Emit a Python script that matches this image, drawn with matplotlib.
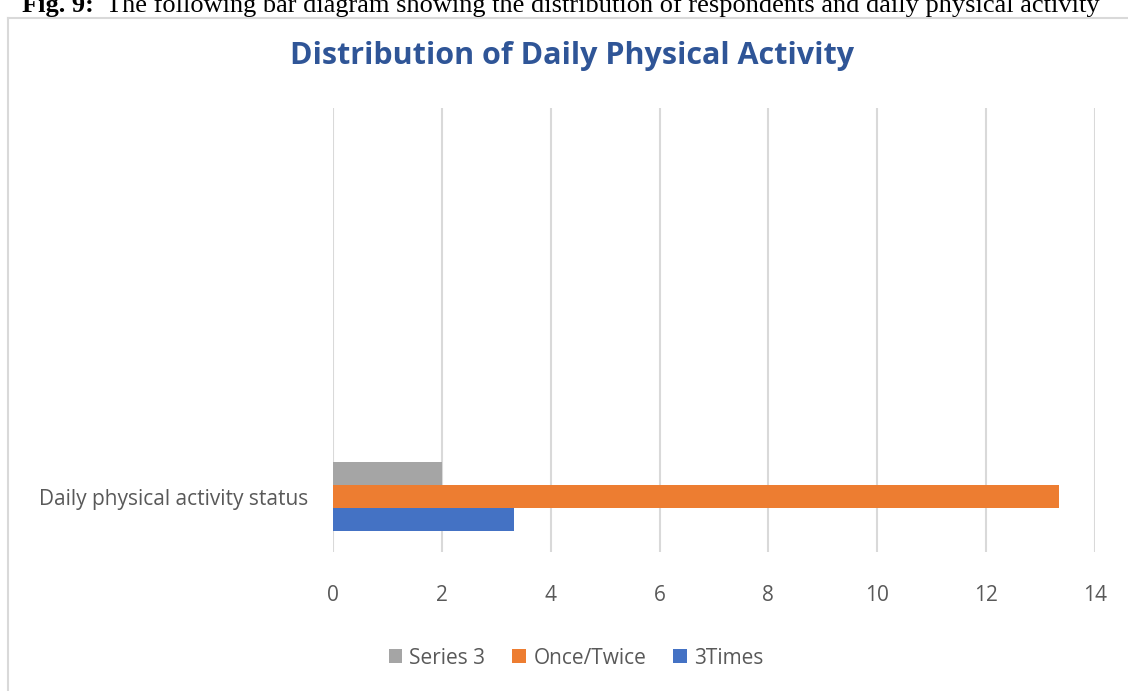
import matplotlib
matplotlib.use("Agg")
import matplotlib.pyplot as plt
from matplotlib.patches import Patch
from matplotlib.lines import Line2D

# Data
categories = ["Daily physical activity status", "", "", ""]
series_names = ["3Times", "Once/Twice", "Series 3"]
series_values = [
    [3.33, 0, 0, 0],    # 3Times
    [13.33, 0, 0, 0],   # Once/Twice
    [2.0, 0, 0, 0],     # Series 3
]
series_colors = ["#4472C4", "#ED7D31", "#A5A5A5"]
x_ticks = [0, 2, 4, 6, 8, 10, 12, 14]

W, H = 1128, 691
fig = plt.figure(figsize=(W / 100, H / 100), dpi=100)
fig.patch.set_facecolor("white")

font = "Open Sans"
text_color = "#595959"
grid_color = "#D9D9D9"

# chart frame (left and top edges of the chart area)
fig.add_artist(Line2D([8 / W, 8 / W], [0, 1 - 18 / H], transform=fig.transFigure,
                      color=grid_color, lw=1.5))
fig.add_artist(Line2D([8 / W, 1], [1 - 18 / H, 1 - 18 / H], transform=fig.transFigure,
                      color=grid_color, lw=1.5))

# caption line above the chart
cap_y = 1 - 12 / H
t1 = fig.text(22 / W, cap_y, "Fig. 9:", fontsize=19, fontweight="bold",
              family="Liberation Serif", va="baseline", ha="left")
fig.canvas.draw()
r = fig.canvas.get_renderer()
bb = t1.get_window_extent(r)
fig.text((bb.x1 + 12) / W, cap_y,
         "The following bar diagram showing the distribution of respondents and daily physical activity",
         fontsize=19, family="Liberation Serif", va="baseline", ha="left")

ax = fig.add_axes([333 / W, 1 - 552 / H, (1095 - 333) / W, (552 - 108) / H])

n_series = len(series_names)
bar_h = 0.207
offsets = [(i - (n_series - 1) / 2) * bar_h for i in range(n_series)]
ypos = list(range(len(categories)))
for name, vals, col, off in zip(series_names, series_values, series_colors, offsets):
    ax.barh([y + off for y in ypos], vals, height=bar_h, color=col, label=name, zorder=3)

ax.set_xlim(0, 14)
ax.set_ylim(-0.5, len(categories) - 0.5)
ax.set_xticks(x_ticks)
ax.set_xticklabels([str(t) for t in x_ticks])
ax.set_yticks(ypos)
ax.set_yticklabels(categories)
ax.xaxis.grid(True, color=grid_color, lw=1.5, zorder=0)
ax.set_axisbelow(True)
for s in ax.spines.values():
    s.set_visible(False)
ax.tick_params(axis="both", length=0, colors=text_color, labelsize=15)
ax.tick_params(axis="x", pad=24)
ax.tick_params(axis="y", pad=18)
for lab in ax.get_xticklabels() + ax.get_yticklabels():
    lab.set_family(font)
    lab.set_color(text_color)

fig.text(572 / W, 1 - 56 / H, "Distribution of Daily Physical Activity",
         fontsize=22, fontweight="bold", family=font, color="#2F5597",
         ha="center", va="center")

handles = [Patch(facecolor=c, label=n) for n, c in
           zip(series_names[::-1], series_colors[::-1])]
leg = fig.legend(handles=handles, loc="center", bbox_to_anchor=(576 / W, 1 - 658 / H),
                 ncol=3, frameon=False, handlelength=0.65, handleheight=0.65,
                 handletextpad=0.35, columnspacing=1.3,
                 prop={"family": font, "size": 15})
for t in leg.get_texts():
    t.set_color(text_color)

fig.savefig("out.png", dpi=100, facecolor="white")
